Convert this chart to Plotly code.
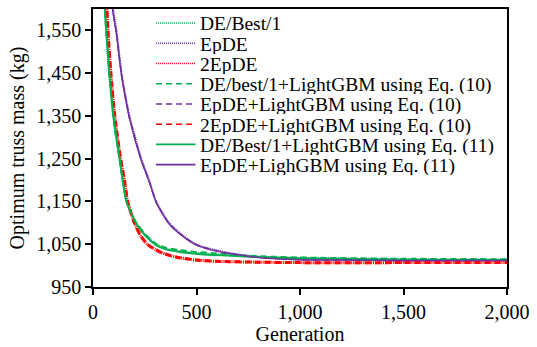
import plotly.graph_objects as go

# Generations and values (kg)
gen_red = [0, 40, 60, 67, 72, 86, 105, 133, 152, 167, 200, 230, 262, 300, 333, 400, 500, 600, 800, 1000, 1500, 2000]
red_dot = [2600, 1900, 1680, 1600, 1550, 1450, 1350, 1250, 1200, 1150, 1100, 1070, 1050, 1038, 1030, 1020, 1013, 1010, 1008, 1007, 1007, 1007]
red_dash = [2600, 1900, 1680, 1600, 1550, 1450, 1350, 1250, 1200, 1150, 1100, 1070, 1050, 1038, 1030, 1020, 1013, 1010, 1008, 1007, 1007, 1007]

gen_green = [0, 40, 57, 65, 80, 100, 128, 162, 209, 257, 305, 352, 420, 495, 580, 667, 800, 1000, 1500, 2000]
green_dot = [2600, 1800, 1600, 1540, 1440, 1340, 1250, 1150, 1100, 1070, 1050, 1040, 1034, 1030, 1027, 1025, 1021, 1018, 1015, 1014]
green_dash = [2600, 1800, 1600, 1540, 1440, 1340, 1250, 1150, 1100, 1071, 1051, 1042, 1036, 1032, 1029, 1026, 1022, 1019, 1016, 1015]
green_sol = [2600, 1810, 1605, 1545, 1445, 1345, 1252, 1150, 1098, 1068, 1048, 1038, 1032, 1028, 1025, 1023, 1020, 1017, 1014, 1013]

gen_purple = [0, 60, 95, 113, 138, 176, 233, 271, 305, 367, 430, 495, 560, 652, 750, 843, 1000, 1200, 1500, 2000]
purple_dot = [2800, 1900, 1605, 1550, 1450, 1350, 1250, 1200, 1150, 1100, 1072, 1050, 1040, 1030, 1023, 1018, 1014, 1013, 1012, 1012]
purple_dash = [2800, 1890, 1600, 1545, 1446, 1347, 1248, 1198, 1149, 1099, 1071, 1050, 1039, 1029, 1022, 1018, 1014, 1013, 1012, 1012]
purple_sol = [2800, 1880, 1598, 1543, 1444, 1345, 1246, 1197, 1148, 1098, 1070, 1049, 1038, 1029, 1022, 1017, 1014, 1013, 1012, 1012]

names = ["DE/Best/1", "EpDE", "2EpDE",
         "DE/best/1+LightGBM using Eq. (10)", "EpDE+LightGBM using Eq. (10)",
         "2EpDE+LightGBM using Eq. (10)", "DE/Best/1+LightGBM using Eq. (11)",
         "EpDE+LighGBM using Eq. (11)"]

GREEN = "#00b050"
PURPLE = "#7030a0"
RED = "#ff0000"
FONT = "Liberation Serif"
DOT = "1px,1px"
DASH = "6px,4px"

series = [
    (gen_green, green_dot, GREEN, DOT, 2),
    (gen_purple, purple_dot, PURPLE, DOT, 2),
    (gen_red, red_dot, RED, DOT, 3),
    (gen_green, green_dash, GREEN, DASH, 2),
    (gen_purple, purple_dash, PURPLE, DASH, 1.5),
    (gen_red, red_dash, RED, DASH, 3),
    (gen_green, green_sol, GREEN, "solid", 2),
    (gen_purple, purple_sol, PURPLE, "solid", 1.5),
]

W, H = 537, 347
ML, MR, MT, MB = 93, 24, 7, 60
PW, PH = W - ML - MR, H - MT - MB
ROW = 20.4

def px_x(p):
    return (p - ML) / PW

def px_y(p):
    return (H - MB - p) / PH

fig = go.Figure()
shapes, annotations = [], []
for i, (name, (x, y, c, d, w)) in enumerate(zip(names, series)):
    fig.add_trace(go.Scatter(x=x, y=y, mode="lines", name=name, showlegend=False,
                             line=dict(color=c, dash=d, width=w, shape="spline", smoothing=0.6)))
    # manual legend entry (tight rows like the reference)
    row_y = 21 + ROW * i
    lw = 1.5 if d != "solid" else 1.8
    shapes.append(dict(type="line", xref="paper", yref="paper",
                       x0=px_x(157), x1=px_x(197), y0=px_y(row_y), y1=px_y(row_y),
                       line=dict(color=c, dash=d, width=lw)))
    annotations.append(dict(xref="paper", yref="paper", x=px_x(201), y=px_y(row_y + 1),
                            xanchor="left", yanchor="middle", showarrow=False,
                            height=19, valign="middle", borderpad=0,
                            text=name, font=dict(family=FONT, size=19.5, color="black")))

fig.update_layout(
    width=W, height=H,
    margin=dict(l=ML, r=MR, t=MT, b=MB),
    paper_bgcolor="white", plot_bgcolor="white",
    font=dict(family=FONT, size=20, color="black"),
    showlegend=False,
    shapes=shapes, annotations=annotations,
    xaxis=dict(range=[0, 2000], dtick=500, tick0=0, tickformat=",d",
               showline=True, linecolor="black", linewidth=1.5, mirror=True,
               ticks="outside", ticklen=6, tickcolor="black", tickwidth=1.5,
               showgrid=False, zeroline=False,
               title=dict(text="Generation", standoff=2, font=dict(family=FONT, size=20)),
               tickfont=dict(family=FONT, size=20)),
    yaxis=dict(range=[950, 1600], dtick=100, tick0=950, tickformat=",d",
               showline=True, linecolor="black", linewidth=1.5, mirror=True,
               ticks="outside", ticklen=6, tickcolor="black", tickwidth=1.5,
               showgrid=False, zeroline=False,
               title=dict(text="Optimum truss mass (kg)", standoff=6, font=dict(family=FONT, size=20)),
               tickfont=dict(family=FONT, size=20)),
)

fig.write_html("out.html")
